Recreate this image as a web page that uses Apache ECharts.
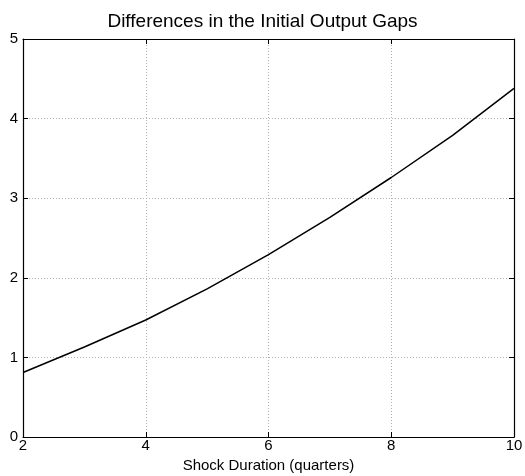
<!DOCTYPE html>
<html><head><meta charset="utf-8">
<script src="https://cdn.jsdelivr.net/npm/echarts@6/dist/echarts.min.js"></script>
<style>html,body{margin:0;padding:0;background:#fff}#c{width:525px;height:476px}</style>
</head><body><div id="c"></div>
<script>
const durations = [2, 3, 4, 5, 6, 7, 8, 9, 10];
const gapDiff = [0.81, 1.13, 1.47, 1.86, 2.29, 2.76, 3.26, 3.79, 4.38];
const xTicks = [2, 4, 6, 8, 10];
const yTicks = [0, 1, 2, 3, 4, 5];

const font = 'Liberation Sans, Arial, Helvetica, sans-serif';
const chart = echarts.init(document.getElementById('c'), null, {renderer: 'canvas'});
const gridLine = {show: true, lineStyle: {color: '#b0b0b0', type: [1, 2], width: 1}};
const axisLine = {show: true, onZero: false, lineStyle: {color: '#000', width: 1.2}};
chart.setOption({
  animation: false,
  title: {text: 'Differences in the Initial Output Gaps', left: 'center', top: 7,
    textStyle: {fontFamily: font, fontSize: 19, fontWeight: 'normal', color: '#000'}},
  grid: {left: 23, right: 11, top: 39, bottom: 39, containLabel: false, outerBoundsMode: 'none'},
  xAxis: [{
    type: 'value', min: xTicks[0], max: xTicks[xTicks.length - 1], interval: 2,
    name: 'Shock Duration (quarters)', nameLocation: 'middle', nameGap: 21,
    nameTextStyle: {fontFamily: font, fontSize: 15, color: '#000'},
    axisLine: axisLine, axisTick: {show: true, inside: true, length: 5, lineStyle: {color: '#000'}},
    axisLabel: {fontFamily: font, fontSize: 15, color: '#000', margin: 1, showMinLabel: true, showMaxLabel: true},
    splitLine: gridLine
  }, {
    type: 'value', position: 'top', min: 2, max: 10, interval: 2,
    axisLine: axisLine, axisTick: {show: true, inside: true, length: 5, lineStyle: {color: '#000'}},
    axisLabel: {show: false}, splitLine: {show: false}
  }],
  yAxis: [{
    type: 'value', min: yTicks[0], max: yTicks[yTicks.length - 1], interval: 1,
    axisLine: axisLine, axisTick: {show: true, inside: true, length: 5, lineStyle: {color: '#000'}},
    axisLabel: {fontFamily: font, fontSize: 15, color: '#000', margin: 5},
    splitLine: gridLine
  }, {
    type: 'value', position: 'right', min: 0, max: 5, interval: 1,
    axisLine: axisLine, axisTick: {show: true, inside: true, length: 5, lineStyle: {color: '#000'}},
    axisLabel: {show: false}, splitLine: {show: false}
  }],
  series: [{
    type: 'line', data: durations.map((d, i) => [d, gapDiff[i]]),
    showSymbol: false, lineStyle: {color: '#000', width: 1.5}, z: 5
  }]
});
</script></body></html>
